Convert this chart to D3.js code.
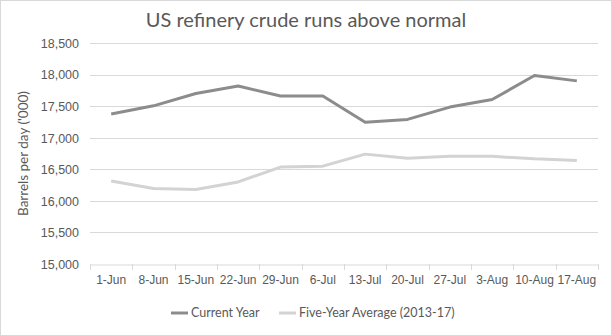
<!DOCTYPE html>
<html>
<head>
<meta charset="utf-8">
<script src="https://cdn.jsdelivr.net/npm/d3@7"></script>
<style>
  body { margin: 0; background: #fff; }
  svg { display: block; font-family: Lato, "Open Sans", sans-serif; }
</style>
</head>
<body>
<svg id="chart" width="612" height="336"></svg>
<script>
const weeks = ["1-Jun", "8-Jun", "15-Jun", "22-Jun", "29-Jun", "6-Jul", "13-Jul", "20-Jul", "27-Jul", "3-Aug", "10-Aug", "17-Aug"]
const currentYear = [17375, 17505, 17700, 17820, 17660, 17660, 17245, 17290, 17485, 17605, 17985, 17900]
const fiveYearAvg = [16315, 16195, 16180, 16300, 16535, 16550, 16740, 16675, 16705, 16705, 16665, 16640]
const yTicks = [15000, 15500, 16000, 16500, 17000, 17500, 18000, 18500]

const width = 612, height = 336
const margin = {top: 43, right: 14, bottom: 72, left: 90}

const svg = d3.select('#chart')

svg.append('rect')
    .attr('x', 0.5).attr('y', 0.5)
    .attr('width', width - 1).attr('height', height - 1)
    .attr('fill', '#fff')
    .attr('stroke', '#d9d9d9')

const x = d3.scaleBand()
    .domain(weeks)
    .range([margin.left, width - margin.right])

const y = d3.scaleLinear()
    .domain([15000, 18500])
    .range([height - margin.bottom, margin.top])

// horizontal gridlines
svg.append('g')
    .selectAll('line')
    .data(yTicks.slice(1))
    .join('line')
    .attr('x1', margin.left).attr('x2', width - margin.right)
    .attr('y1', d => Math.round(y(d)) + 0.5).attr('y2', d => Math.round(y(d)) + 0.5)
    .attr('stroke', '#d9d9d9')

const yAxis = svg.append('g')
    .attr('transform', `translate(${margin.left - 8},0)`)
    .call(d3.axisLeft(y).tickValues(yTicks).tickFormat(d3.format(',')).tickSize(0))
yAxis.select('.domain').remove()
yAxis.selectAll('text')
    .attr('fill', '#595959')
    .attr('font-size', 12.5)
    .attr('dy', '0.35em')

const xAxis = svg.append('g')
    .attr('transform', `translate(0,${Math.round(y(15000)) + 0.5})`)
    .call(d3.axisBottom(x).tickSize(0).tickPadding(11))
xAxis.select('.domain').attr('stroke', '#d9d9d9')
xAxis.selectAll('text')
    .attr('fill', '#595959')
    .attr('font-size', 12)

// tick marks sit between the categories
svg.append('g')
    .selectAll('line')
    .data(d3.range(weeks.length + 1))
    .join('line')
    .attr('x1', i => Math.round(margin.left + i * x.step()) + 0.5)
    .attr('x2', i => Math.round(margin.left + i * x.step()) + 0.5)
    .attr('y1', Math.round(y(15000)))
    .attr('y2', Math.round(y(15000)) + 6)
    .attr('stroke', '#d9d9d9')

const line = d3.line()
    .x((d, i) => x(weeks[i]) + x.bandwidth() / 2)
    .y(d => y(d))

const series = [
  {name: 'Current Year', values: currentYear, color: '#8c8c8c'},
  {name: 'Five-Year Average (2013-17)', values: fiveYearAvg, color: '#d3d3d3'}
]

svg.append('g')
    .selectAll('path')
    .data(series.slice().reverse())
    .join('path')
    .attr('d', d => line(d.values))
    .attr('fill', 'none')
    .attr('stroke', d => d.color)
    .attr('stroke-width', 3)
    .attr('stroke-linejoin', 'round')

svg.append('text')
    .attr('x', width / 2)
    .attr('y', 27)
    .attr('text-anchor', 'middle')
    .attr('font-size', 20)
    .attr('fill', '#595959')
    .text('US refinery crude runs above normal')

svg.append('text')
    .attr('transform', `translate(28,${y(16750)}) rotate(-90)`)
    .attr('text-anchor', 'middle')
    .attr('font-size', 13.5)
    .attr('fill', '#595959')
    .text("Barrels per day ('000)")

// legend
const legend = svg.append('g')
const legendX = [171, 279]
series.forEach((s, i) => {
  const g = legend.append('g').attr('transform', `translate(${legendX[i]},313)`)
  g.append('line')
      .attr('x1', 0).attr('x2', 17)
      .attr('stroke', s.color).attr('stroke-width', 3)
  g.append('text')
      .attr('x', 20).attr('dy', '0.35em')
      .attr('font-size', 12.5)
      .attr('fill', '#595959')
      .text(s.name)
})
</script>
</body>
</html>
